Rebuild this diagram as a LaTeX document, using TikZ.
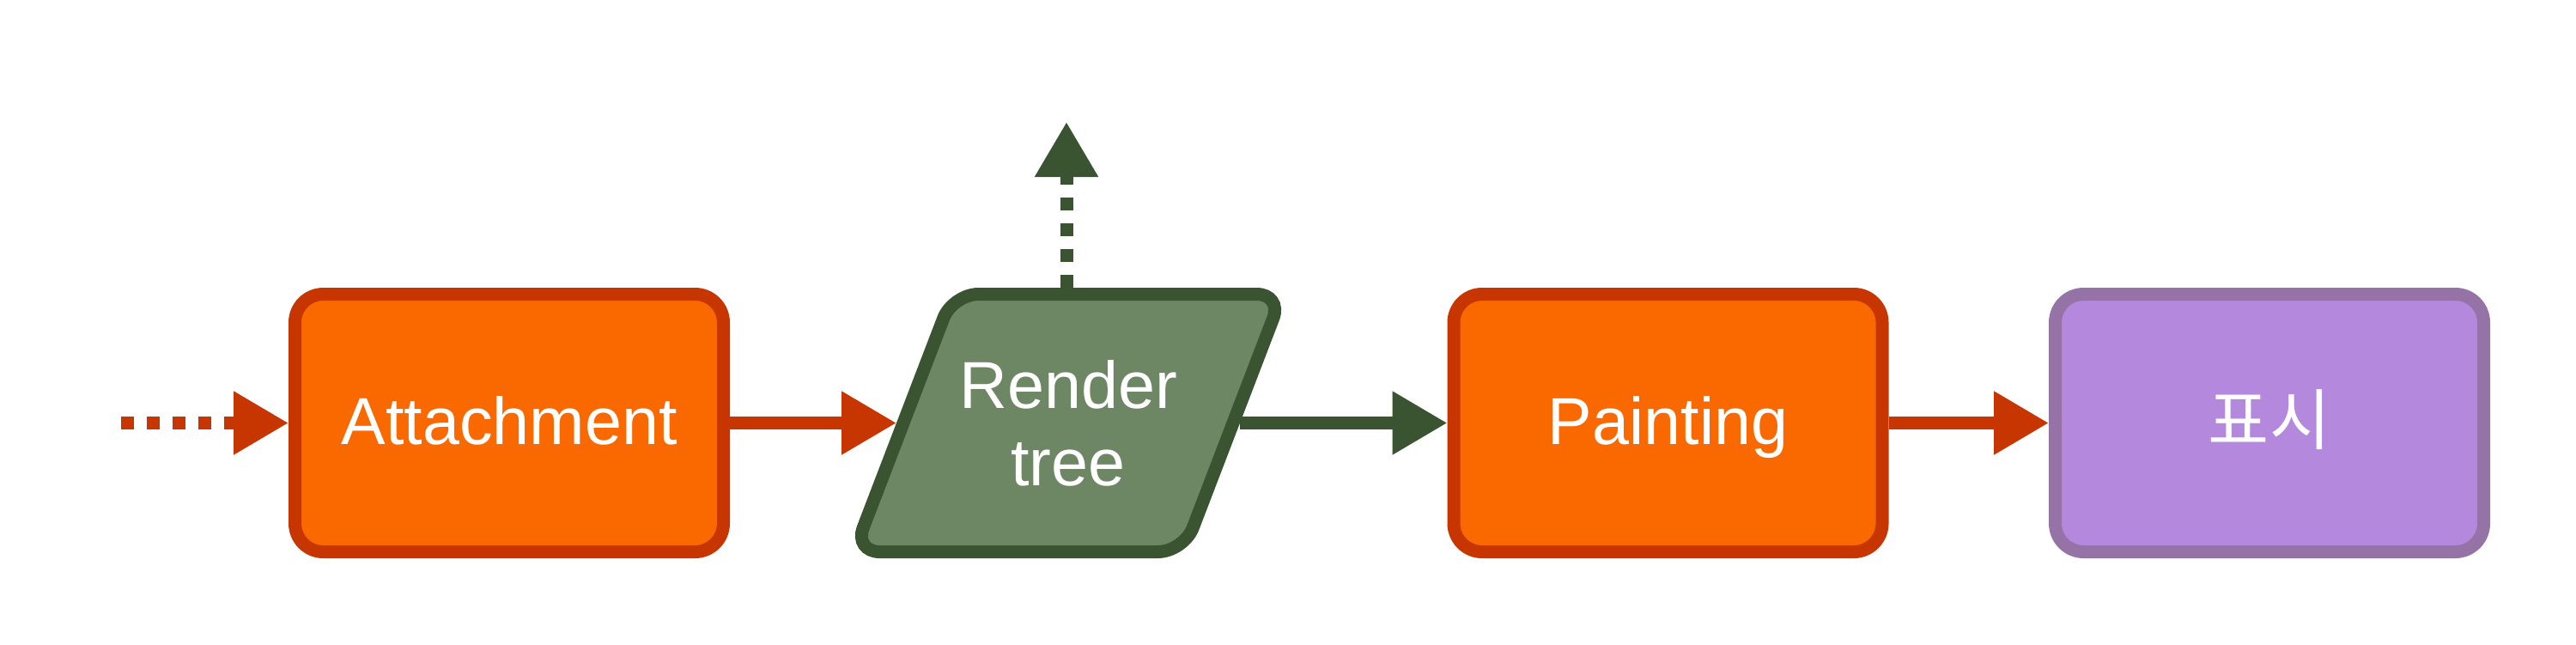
\documentclass[tikz,border=0pt]{standalone}
\usepackage{fontspec}
\setmainfont{Liberation Sans}
\newfontfamily\krfont{Noto Sans CJK KR}
\usetikzlibrary{arrows.meta, positioning}
\definecolor{orangefill}{HTML}{FA6800}
\definecolor{orangeline}{HTML}{C73500}
\definecolor{greenfill}{HTML}{6D8764}
\definecolor{greenline}{HTML}{3A5431}
\definecolor{purplefill}{HTML}{B388DD}
\definecolor{purpleline}{HTML}{9673A6}

\begin{document}
\begin{tikzpicture}[
    stagebox/.style={rectangle, rounded corners=0.33cm, line width=0.15cm, minimum width=4.99cm, minimum height=3cm, text=white, font=\fontsize{22}{25.6}\selectfont, text height=15.8pt, text depth=1.8pt},
    treetext/.style={text=white, align=center, font=\fontsize{22}{25.6}\selectfont},
    flow/.style={line width=0.15cm, -{Triangle[length=0.64cm, width=0.7cm]}},
    dots/.style={flow, dash pattern=on 0.15cm off 0.15cm}
]
\useasboundingbox (0,0) rectangle (30,7.5);

% stages
\node[stagebox, draw=orangeline, fill=orangefill] (att) at (5.93,2.575) {Attachment};
\draw[greenline, fill=greenfill, line width=0.15cm, rounded corners=0.3cm]
    (9.945,1.075) -- (13.785,1.075) -- (14.935,4.075) -- (11.095,4.075) -- cycle;
\node[treetext] (rt) at (12.44,2.575) {Render\\tree};
\node[stagebox, draw=orangeline, fill=orangefill] (paint) at (19.425,2.575) {Painting};
\node[stagebox, draw=purpleline, fill=purplefill, font=\krfont\fontsize{22}{25.6}\selectfont] (show) at (26.43,2.575) {표시};

% edges of the slanted box and loose ends
\coordinate (rtW) at (10.44,2.575);
\coordinate (rtE) at (14.44,2.575);
\coordinate (rtN) at (12.42,4.15);
\coordinate (start) at (1.41,2.575);
\coordinate[above=1.93cm of rtN] (up);

% arrows
\draw[dots, orangeline] (start) -- (att);
\draw[flow, orangeline] (att) -- (rtW);
\draw[flow, greenline] (rtE) -- (paint);
\draw[flow, orangeline] (paint) -- (show);
\draw[dots, greenline] (rtN) -- (up);

\end{tikzpicture}
\end{document}
